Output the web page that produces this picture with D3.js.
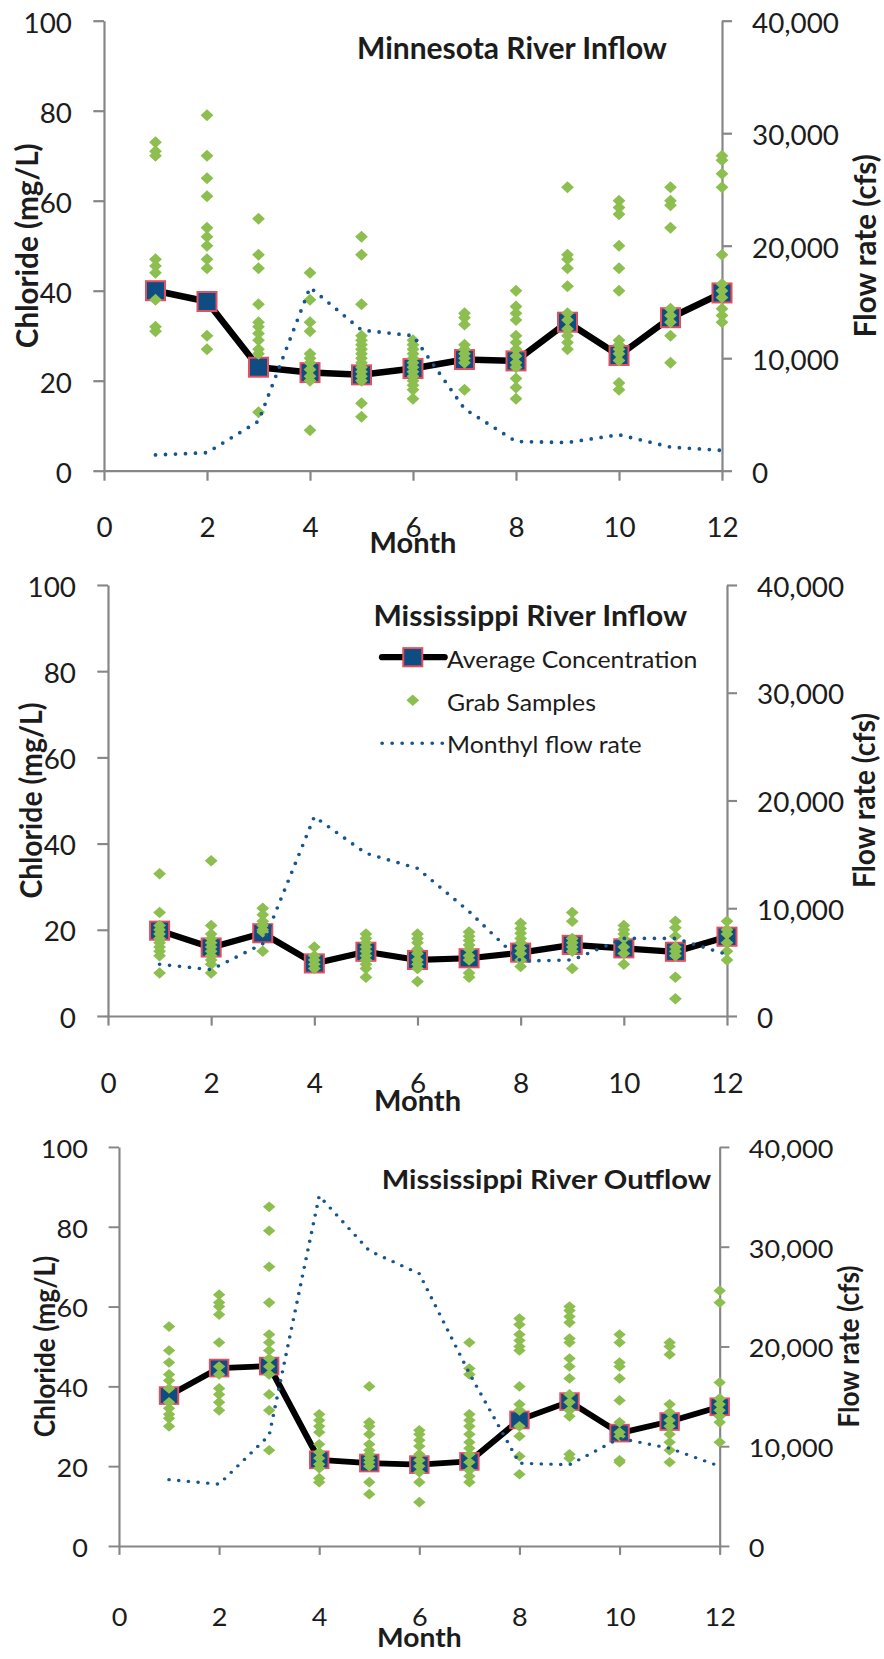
<!DOCTYPE html>
<html><head><meta charset="utf-8">
<script src="https://cdn.jsdelivr.net/npm/d3@7"></script>
<style>body{margin:0;background:#fff} svg{display:block}</style>
</head><body><svg id="chart" width="884" height="1659"></svg>
<script>
// ---------------- data ----------------
const months = [1,2,3,4,5,6,7,8,9,10,11,12];
const xTicks = [0,2,4,6,8,10,12];
const yTicks = [0,20,40,60,80,100];
const flowTicks = [0,10000,20000,30000,40000];
const titles = ["Minnesota River Inflow","Mississippi River Inflow","Mississippi River Outflow"];
const legendLabels = ["Average Concentration","Grab Samples","Monthyl flow rate"];
const xLabel = "Month";
const yLabel = "Chloride (mg/L)";
const y2Label = "Flow rate (cfs)";

const avgMinnesota = [40, 37.6, 23, 21.8, 21.3, 22.7, 24.7, 24.4, 33, 25.6, 34, 39.5];
const grabMinnesota = [
  [73, 71, 70, 47, 45.5, 44, 38, 32, 31],
  [79, 70, 65, 61, 54, 52, 50, 47, 45, 30, 27],
  [56, 48, 45, 37, 33, 32, 30.5, 29, 27, 26, 13],
  [44, 38, 33, 31, 26, 25, 24, 22.5, 21, 20, 9],
  [52, 48, 37, 30, 29, 28, 27, 26, 25, 24, 23, 22, 21, 20, 15, 12],
  [29, 28, 27, 26, 25, 24, 23, 22, 21, 20, 19, 18, 16],
  [35, 34, 32.5, 28, 27, 26, 25, 24, 18],
  [40, 36.5, 35, 33.5, 30, 28.5, 27, 25.5, 24, 23, 20.5, 18.5, 16],
  [63, 48, 47, 45, 41, 35, 33.5, 31.5, 30, 28.5, 27],
  [60, 58.5, 57, 50, 45, 40, 29, 28, 27, 26, 24.5, 19.5, 18],
  [63, 60, 59, 54, 36, 34.5, 33, 30, 24],
  [70, 69, 66, 63, 48, 41.5, 40, 38.5, 36, 34.5, 33]
];
const flowMinnesota = [1400, 1600, 4400, 16300, 12500, 12000, 5500, 2600, 2500, 3200, 2100, 1800];

const avgMissInflow = [19.8, 15.9, 19.2, 12.2, 14.9, 13.0, 13.4, 14.7, 16.5, 15.7, 14.9, 18.4];
const grabMissInflow = [
  [33, 24, 21, 20, 19, 18, 17, 16, 15, 14, 10],
  [36, 21, 19, 18, 17, 16, 15, 14, 13, 12, 10],
  [25, 23.5, 22, 21, 20, 19.5, 15],
  [16, 14, 13, 12, 11],
  [19, 18, 17, 16, 15, 14, 13, 12, 11, 9],
  [19, 18, 17, 15.5, 14.5, 13, 12, 11, 8],
  [19.5, 18.5, 17.5, 16.5, 15.5, 14, 13, 10, 9],
  [21.5, 20.3, 19.2, 18, 17, 15.7, 14.5, 13, 11.5],
  [24, 22, 18, 17, 16, 15, 11],
  [21, 20, 19, 18, 16, 14.5, 12],
  [22, 20.5, 18.5, 16, 15, 14, 9, 4],
  [22, 20, 19, 17, 15, 13]
];
const flowMissInflow = [4800, 4300, 6700, 18500, 15100, 13700, 9700, 5100, 5200, 7200, 7200, 5700];

const avgMissOutflow = [37.7, 44.6, 45.1, 21.6, 20.8, 20.4, 21.2, 31.6, 36.2, 28.3, 31.2, 34.9];
const grabMissOutflow = [
  [55, 49, 46, 43, 41.5, 39.5, 36, 34.5, 33, 32, 30],
  [63, 61, 60, 58, 51, 45, 43, 39.5, 38, 36, 34],
  [85, 79, 70, 61, 53, 51, 49, 47, 45, 43, 38, 34, 24],
  [33, 31.5, 30, 28.5, 25.5, 23.5, 22, 20.5, 19.5, 17, 16],
  [40, 31, 30, 28, 25.5, 24, 23, 22, 21, 20, 16, 13],
  [29, 28, 26.5, 25, 23, 21.5, 20, 18.5, 16, 11],
  [51, 44.5, 43, 33, 31.5, 30, 28, 26, 24.5, 23, 21, 19, 17.5, 16],
  [57, 55.5, 53, 51.5, 50, 49, 40, 35.5, 34, 30, 27.5, 22.5, 18],
  [60, 59, 57.5, 56, 52, 51, 47, 45, 42, 38, 36, 34, 32.5, 23, 22],
  [53, 51, 46, 45, 42, 36.5, 31, 28.5, 27.5, 21.5, 21],
  [51, 50, 48, 35.5, 33.5, 31.5, 30, 28, 26, 24, 21],
  [64, 61, 41, 37, 35.5, 34, 32.5, 31, 26]
];
const flowMissOutflow = [6650, 6200, 11100, 35100, 29600, 27300, 17300, 8300, 8150, 10800, 9800, 8000];

// ---------------- style ----------------
const FONT = "Lato, 'Open Sans', 'DejaVu Sans', sans-serif";
const TEXT = "#1c1c1c";
const AXIS = "#868686";
const SQ_FILL = "#0f4c81";
const SQ_STROKE = "#e0505e";
const GREEN = "#8cbf4f";
const DOT = "#16558e";

const svg = d3.select("#chart");
svg.append("rect").attr("width",884).attr("height",1659).attr("fill","#fff");

function fitSize(text, weight, target){
  const t = svg.append("text").attr("font-family",FONT).attr("font-weight",weight)
    .attr("font-size",100).text(text);
  const w = t.node().getComputedTextLength(); t.remove();
  return 100*target/w;
}
const tickFs   = fitSize("40,000", 400, 87);
const titleFs  = fitSize(titles[0], 700, 310);
const yTitleFs = fitSize(yLabel, 700, 205);
const y2TitleFs= fitSize(y2Label, 700, 183);
const monthFs  = fitSize(xLabel, 700, 87);
const legendFs = fitSize(legendLabels[0], 400, 250);

// native geometry (panel 1 coordinates)
const X0 = 104, X1 = 722, YT = 20.7, YB = 470.7;
const x = d3.scaleLinear().domain([0,12]).range([X0,X1]);
const y = d3.scaleLinear().domain([0,100]).range([YB,YT]);
const y2 = d3.scaleLinear().domain([0,40000]).range([YB,YT]);

const panels = [
  {title:titles[0], avg:avgMinnesota, grab:grabMinnesota, flow:flowMinnesota,
   tx:0, ty:0, sx:1, sy:1, titleX:357, titleY:59.3, flowX:865, legend:false,
   labelY:66, monthY:553},
  {title:titles[1], avg:avgMissInflow, grab:grabMissInflow, flow:flowMissInflow,
   tx:3.83, ty:565.17, sx:1.0016, sy:0.9578, titleX:369, titleY:63.5, flowX:859, legend:true,
   labelY:80, monthY:570},
  {title:titles[2], avg:avgMissOutflow, grab:grabMissOutflow, flow:flowMissOutflow,
   tx:17.9, ty:1128.65, sx:0.972, sy:0.8867, titleX:374.3, titleY:67.5, flowX:855, legend:false,
   labelY:90, monthY:585}
];

const diamond = "M0,-6L6.4,0L0,6L-6.4,0Z";
const SQ = 19;

function styleAxis(g){
  g.select(".domain").attr("stroke",AXIS).attr("stroke-width",2.2);
  g.selectAll(".tick line").attr("stroke",AXIS).attr("stroke-width",2.2);
  g.selectAll(".tick text").attr("fill",TEXT).attr("font-family",FONT)
    .attr("font-size",tickFs);
}

panels.forEach(p => {
  const g = svg.append("g").attr("transform",`translate(${p.tx},${p.ty}) scale(${p.sx},${p.sy})`);

  // axes
  const ax = g.append("g").attr("transform",`translate(0,${YB})`)
    .call(d3.axisBottom(x).tickValues(xTicks).tickSize(10).tickSizeOuter(0));
  styleAxis(ax);
  ax.selectAll(".tick text").attr("y",p.labelY).attr("dy",0);

  const ay = g.append("g").attr("transform",`translate(${X0},0)`)
    .call(d3.axisLeft(y).tickValues(yTicks).tickSize(10.7).tickSizeOuter(0));
  styleAxis(ay);
  ay.selectAll(".tick text").attr("x",-32).attr("dy","0.42em");

  const ay2 = g.append("g").attr("transform",`translate(${X1},0)`)
    .call(d3.axisRight(y2).tickValues(flowTicks).tickFormat(d3.format(",")).tickSize(10).tickSizeOuter(0));
  styleAxis(ay2);
  ay2.selectAll(".tick text").attr("x",30).attr("dy","0.42em");

  // axis titles
  g.append("text").attr("transform",`translate(27,${(YT+YB)/2}) rotate(-90)`)
    .attr("text-anchor","middle").attr("dy","0.36em")
    .attr("font-family",FONT).attr("font-weight",700).attr("font-size",yTitleFs)
    .attr("fill",TEXT).text(yLabel);
  g.append("text").attr("transform",`translate(${p.flowX},${(YT+YB)/2}) rotate(-90)`)
    .attr("text-anchor","middle").attr("dy","0.36em")
    .attr("font-family",FONT).attr("font-weight",700).attr("font-size",y2TitleFs)
    .attr("fill",TEXT).text(y2Label);
  g.append("text").attr("x",413).attr("y",p.monthY).attr("text-anchor","middle")
    .attr("font-family",FONT).attr("font-weight",700).attr("font-size",monthFs)
    .attr("fill",TEXT).text(xLabel);

  // title
  g.append("text").attr("x",p.titleX).attr("y",p.titleY)
    .attr("font-family",FONT).attr("font-weight",700).attr("font-size",titleFs)
    .attr("fill",TEXT).text(p.title);

  // average line + squares
  const avgData = months.map((m,i)=>({m, v:p.avg[i]}));
  g.append("path").datum(avgData)
    .attr("fill","none").attr("stroke","#000").attr("stroke-width",6.5)
    .attr("stroke-linejoin","round")
    .attr("d", d3.line().x(d=>x(d.m)).y(d=>y(d.v)));
  g.selectAll(".sq").data(avgData).join("rect")
    .attr("x",d=>x(d.m)-SQ/2).attr("y",d=>y(d.v)-SQ/2)
    .attr("width",SQ).attr("height",SQ)
    .attr("fill",SQ_FILL).attr("stroke",SQ_STROKE).attr("stroke-width",2);

  // grab samples
  const grabData = [];
  p.grab.forEach((arr,i)=>arr.forEach(v=>grabData.push({m:months[i], v})));
  g.selectAll(".dm").data(grabData).join("path")
    .attr("d",diamond).attr("fill",GREEN)
    .attr("transform",d=>`translate(${x(d.m)},${y(d.v)})`);

  // flow line
  const flowData = months.map((m,i)=>({m, v:p.flow[i]}));
  g.append("path").datum(flowData)
    .attr("fill","none").attr("stroke",DOT).attr("stroke-width",3.8)
    .attr("stroke-linecap","round").attr("stroke-dasharray","0 10")
    .attr("d", d3.line().x(d=>x(d.m)).y(d=>y2(d.v)));

  // legend
  if (p.legend){
    const L = g.append("g");
    const lx0 = 377.7, lx1 = 440, lmx = 408.3, tx = 442.5;
    L.append("line").attr("x1",lx0).attr("x2",lx1).attr("y1",96.1).attr("y2",96.1)
      .attr("stroke","#000").attr("stroke-width",6.5).attr("stroke-linecap","round");
    L.append("rect").attr("x",lmx-SQ/2).attr("y",96.1-SQ/2).attr("width",SQ).attr("height",SQ)
      .attr("fill",SQ_FILL).attr("stroke",SQ_STROKE).attr("stroke-width",2);
    L.append("path").attr("d",diamond).attr("fill",GREEN)
      .attr("transform",`translate(${lmx},141)`);
    L.append("line").attr("x1",lx0).attr("x2",lx1).attr("y1",185.9).attr("y2",185.9)
      .attr("stroke",DOT).attr("stroke-width",3.8).attr("stroke-linecap","round")
      .attr("stroke-dasharray","0 10");
    [107,151.9,196.3].forEach((by,i)=>{
      L.append("text").attr("x",tx).attr("y",by)
        .attr("font-family",FONT).attr("font-size",legendFs).attr("fill",TEXT)
        .text(legendLabels[i]);
    });
  }
});
</script></body></html>
